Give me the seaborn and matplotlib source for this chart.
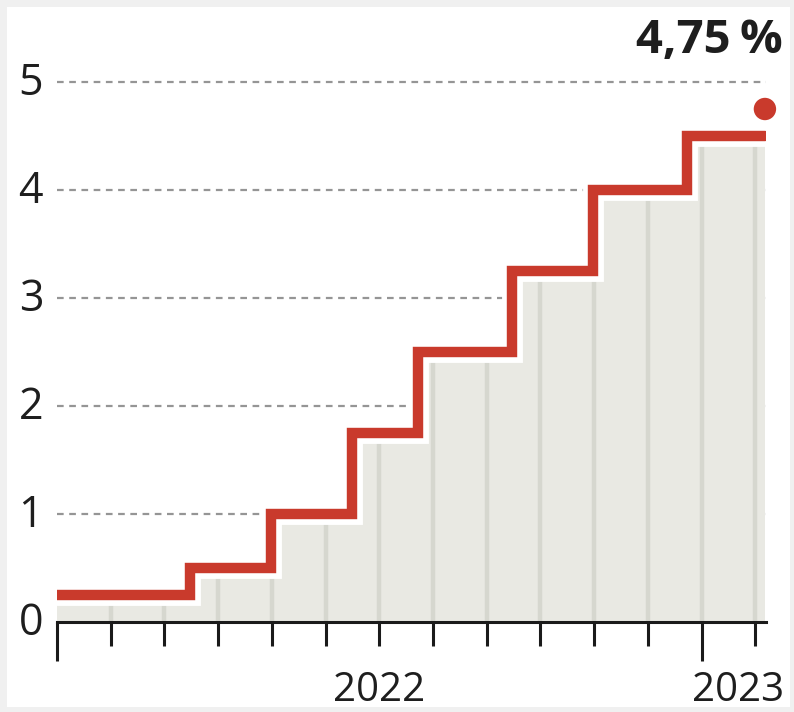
import matplotlib
matplotlib.use("Agg")
import matplotlib.pyplot as plt
import matplotlib.patheffects as pe
import matplotlib.transforms as mtransforms
from matplotlib.patches import Rectangle
import numpy as np
import seaborn as sns

# ---- data (months since Jan 2022) ----
step_x = [0, 2.48, 3.98, 5.49, 6.72, 8.47, 9.98, 11.73, 13.18]
rate = [0.25, 0.5, 1.0, 1.75, 2.5, 3.25, 4.0, 4.5, 4.5]
latest_x = [13.18]
latest_rate = [4.75]
latest_label = "4,75\u2009%"
month_ticks = list(range(14))
year_ticks = [0, 12]
year_labels = ["2022", "2023"]
year_label_x = [6.0, 12.68]
y_ticks = [0, 1, 2, 3, 4, 5]
y_labels = ["0", "1", "2", "3", "4", "5"]

sns.set_style("white")
plt.rcParams["font.family"] = ["Open Sans", "DejaVu Sans"]

RED = "#c93a2c"
FILL = "#e9e9e3"
VLINE = "#d6d7cf"
TXT = "#1e1e1e"

fig = plt.figure(figsize=(7.94, 7.12), dpi=100)
fig.patch.set_facecolor("#f0f0f0")
fig.patches.append(Rectangle((7 / 794, 5 / 712), 783 / 794, 700 / 712,
                             transform=fig.transFigure, facecolor="white",
                             edgecolor="none", zorder=-10))

ax = fig.add_axes([57 / 794, 90 / 712, 709 / 794, 594 / 712])
ax.set_facecolor("none")
ax.set_xlim(0, 13.2)
ax.set_ylim(0, 5.5)

# dashed grid
for y in y_ticks[1:]:
    ax.axhline(y, color="#959595", lw=1.6, dashes=(3, 2.5), zorder=0.5)

# fill under step
poly = ax.fill_between(step_x, 0, rate, step="post", color=FILL, lw=0, zorder=1)

# month lines inside fill
vl = ax.vlines(month_ticks[1:], 0, 6, color=VLINE, lw=3.2, zorder=1.5)
vl.set_clip_path(poly.get_paths()[0], ax.transData)

# red step line
sns.lineplot(x=step_x, y=rate, drawstyle="steps-post", color=RED, lw=7.5,
             estimator=None, sort=False, ax=ax, zorder=3,
             solid_capstyle="round", solid_joinstyle="miter",
             path_effects=[pe.Stroke(linewidth=15, foreground="white"), pe.Normal()])
sns.scatterplot(x=latest_x, y=latest_rate, color=RED, s=260, edgecolor="none",
                ax=ax, zorder=4, clip_on=False)

t = ax.text(1.0 + 17 / 709, 1 - 25 / 594, latest_label, transform=ax.transAxes,
            ha="right", va="baseline", fontsize=34, fontweight="bold", color=TXT)

# axes styling
for s in ["top", "right", "left"]:
    ax.spines[s].set_visible(False)
ax.spines["bottom"].set_color("#1a1a1a")
ax.spines["bottom"].set_linewidth(2.2)
ax.spines["bottom"].set_zorder(5)

ax.set_yticks(y_ticks)
ax.set_yticklabels(y_labels, fontsize=31, color=TXT)
ax.tick_params(axis="y", length=0, pad=10, left=False)
shift = mtransforms.ScaledTranslation(0, 4 / 100, fig.dpi_scale_trans)
for lab in ax.get_yticklabels():
    lab.set_transform(lab.get_transform() + shift)

ax.set_xticks(year_ticks)
ax.set_xticklabels([])
ax.set_xticks([m for m in month_ticks if m not in year_ticks], minor=True)
ax.tick_params(axis="x", which="both", bottom=True, direction="out")
ax.tick_params(axis="x", which="major", length=28, width=2.2, color="#1a1a1a")
ax.tick_params(axis="x", which="minor", length=17, width=2.2, color="#1a1a1a")

for xl, lab in zip(year_label_x, year_labels):
    ax.text(xl, -0.735, lab, ha="center", va="baseline", fontsize=29,
            color=TXT, clip_on=False)

fig.savefig("out.png", dpi=100, facecolor=fig.get_facecolor())
